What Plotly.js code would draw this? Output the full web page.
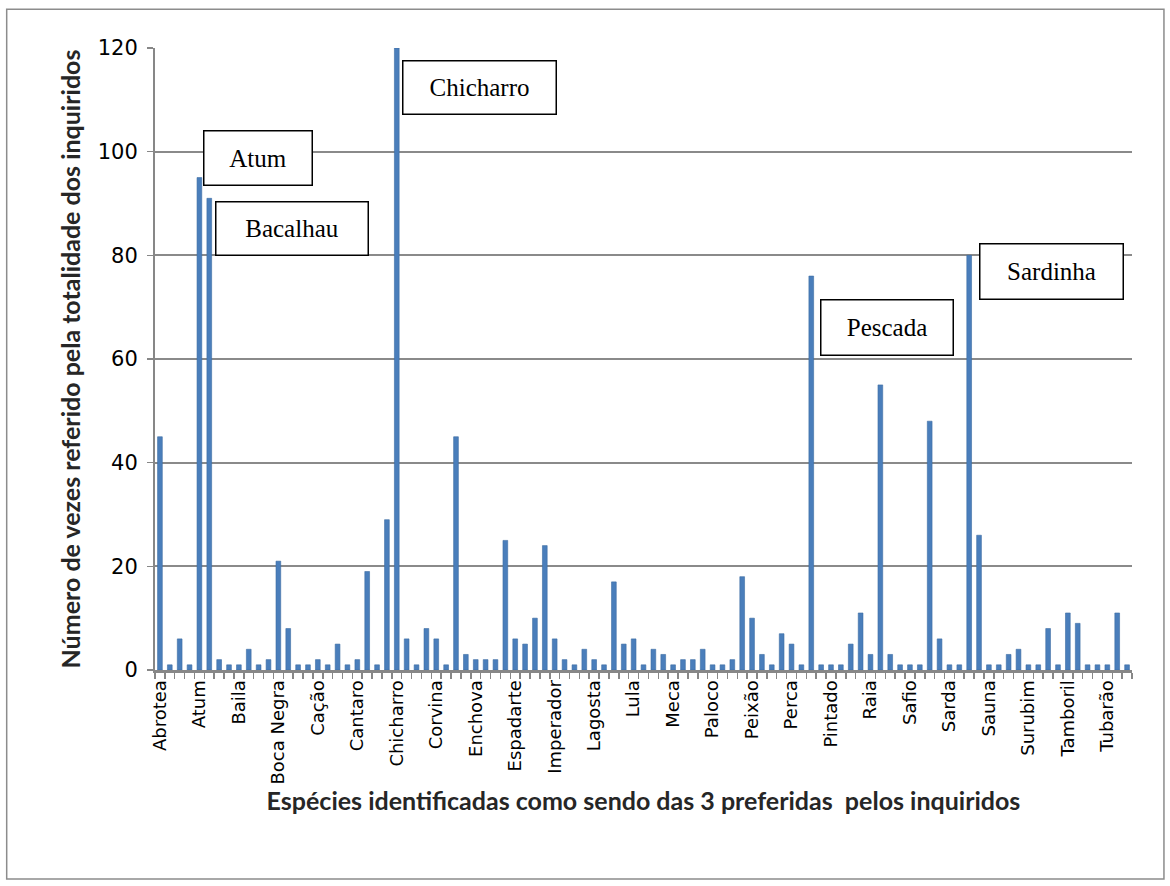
<!DOCTYPE html>
<html>
<head>
<meta charset="utf-8">
<script src="https://cdn.plot.ly/plotly-3.0.1.min.js"></script>
<style>
  html, body { margin: 0; padding: 0; background: #ffffff; }
  #chart { width: 1170px; height: 886px; }
</style>
</head>
<body>
<div id="chart"></div>
<script>
// Tick labels shown on the x axis (every 4th species, alphabetical)
const tickLabels = [
  "Abrotea", "Atum", "Baila", "Boca Negra", "Cação", "Cantaro", "Chicharro",
  "Corvina", "Enchova", "Espadarte", "Imperador", "Lagosta", "Lula", "Meca",
  "Paloco", "Peixão", "Perca", "Pintado", "Raia", "Safio", "Sarda", "Sauna",
  "Surubim", "Tamboril", "Tubarão"
];
// Number of times each species was mentioned (99 species, in axis order)
const counts = [
  45, 1, 6, 1, 95, 91, 2, 1, 1, 4,
  1, 2, 21, 8, 1, 1, 2, 1, 5, 1,
  2, 19, 1, 29, 120, 6, 1, 8, 6, 1,
  45, 3, 2, 2, 2, 25, 6, 5, 10, 24,
  6, 2, 1, 4, 2, 1, 17, 5, 6, 1,
  4, 3, 1, 2, 2, 4, 1, 1, 2, 18,
  10, 3, 1, 7, 5, 1, 76, 1, 1, 1,
  5, 11, 3, 55, 3, 1, 1, 1, 48, 6,
  1, 1, 80, 26, 1, 1, 3, 4, 1, 1,
  8, 1, 11, 9, 1, 1, 1, 11, 1
];
// Highlighted species (callout boxes)
const calloutNames = ["Atum", "Bacalhau", "Chicharro", "Pescada", "Sardinha"];

const xs = counts.map((_, i) => i + 1);
const tickVals = tickLabels.map((_, i) => 1 + 4 * i);

// box placement (data units) for callouts
const boxPos = [
  {x: 10.9, y: 98.7, w: 107, h: 53},
  {x: 14.4, y: 85.1, w: 151, h: 52},
  {x: 33.4, y: 112.3, w: 152, h: 52},
  {x: 74.7, y: 66.0, w: 131, h: 54},
  {x: 91.3, y: 76.8, w: 142, h: 54}
];

const trace = {
  type: 'bar',
  x: xs,
  y: counts,
  width: 0.48,
  marker: { color: '#4A7EBB', line: { color: '#3D6BA3', width: 0.6 } },
  hoverinfo: 'x+y'
};

const annotations = calloutNames.map((name, i) => ({
  xref: 'x', yref: 'y',
  x: boxPos[i].x, y: boxPos[i].y,
  text: name,
  showarrow: false,
  font: { family: 'Liberation Serif, Times New Roman, serif', size: 25, color: '#000' },
  bgcolor: '#ffffff',
  bordercolor: '#000000',
  borderwidth: 1.5,
  borderpad: 0,
  width: boxPos[i].w,
  height: boxPos[i].h,
  xanchor: 'center', yanchor: 'middle'
}));

const titleFont = { family: 'Lato, Carlito, sans-serif', size: 25, color: '#262626', weight: 'bold' };

const layout = {
  width: 1170, height: 886,
  margin: { l: 155, r: 38, t: 48, b: 216 },
  paper_bgcolor: '#ffffff',
  plot_bgcolor: '#ffffff',
  showlegend: false,
  xaxis: {
    type: 'linear',
    range: [0.5, 99.5],
    tickmode: 'array',
    tickvals: tickVals,
    ticktext: tickLabels,
    tickangle: -90,
    ticks: '',
    showgrid: false,
    zeroline: false,
    showline: true,
    linecolor: '#878787',
    linewidth: 3,
    tickfont: { family: 'DejaVu Sans, Verdana, sans-serif', size: 18, color: '#000' },
    minor: { tick0: 0.5, dtick: 1, ticks: 'outside', ticklen: 6, tickcolor: '#878787', tickwidth: 1.5, showgrid: false },
    title: {
      text: 'Espécies identificadas como sendo das 3 preferidas  pelos inquiridos',
      font: titleFont,
      standoff: 0
    },
    automargin: false
  },
  yaxis: {
    range: [0, 120],
    tickmode: 'linear', tick0: 0, dtick: 20,
    ticks: 'outside', ticklen: 6, tickcolor: '#878787', tickwidth: 1.5,
    showgrid: true, gridcolor: '#8a8a8a', gridwidth: 2,
    zeroline: false,
    showline: true, linecolor: '#878787', linewidth: 2,
    tickfont: { family: 'DejaVu Sans, Verdana, sans-serif', size: 21, color: '#000' },
    ticklabelstandoff: 5,
    title: {
      text: 'Número de vezes referido pela totalidade dos inquiridos',
      font: titleFont,
      standoff: 10
    },
    automargin: false
  },
  annotations: annotations,
  shapes: [{
    type: 'rect', xref: 'paper', yref: 'paper',
    x0: -0.1518, x1: 1.0327, y0: -0.336, y1: 1.0622,
    line: { color: '#8c8c8c', width: 1.5 }, fillcolor: 'rgba(0,0,0,0)', layer: 'below'
  }]
};

Plotly.newPlot('chart', [trace], layout, { staticPlot: true, displayModeBar: false });
</script>
</body>
</html>
